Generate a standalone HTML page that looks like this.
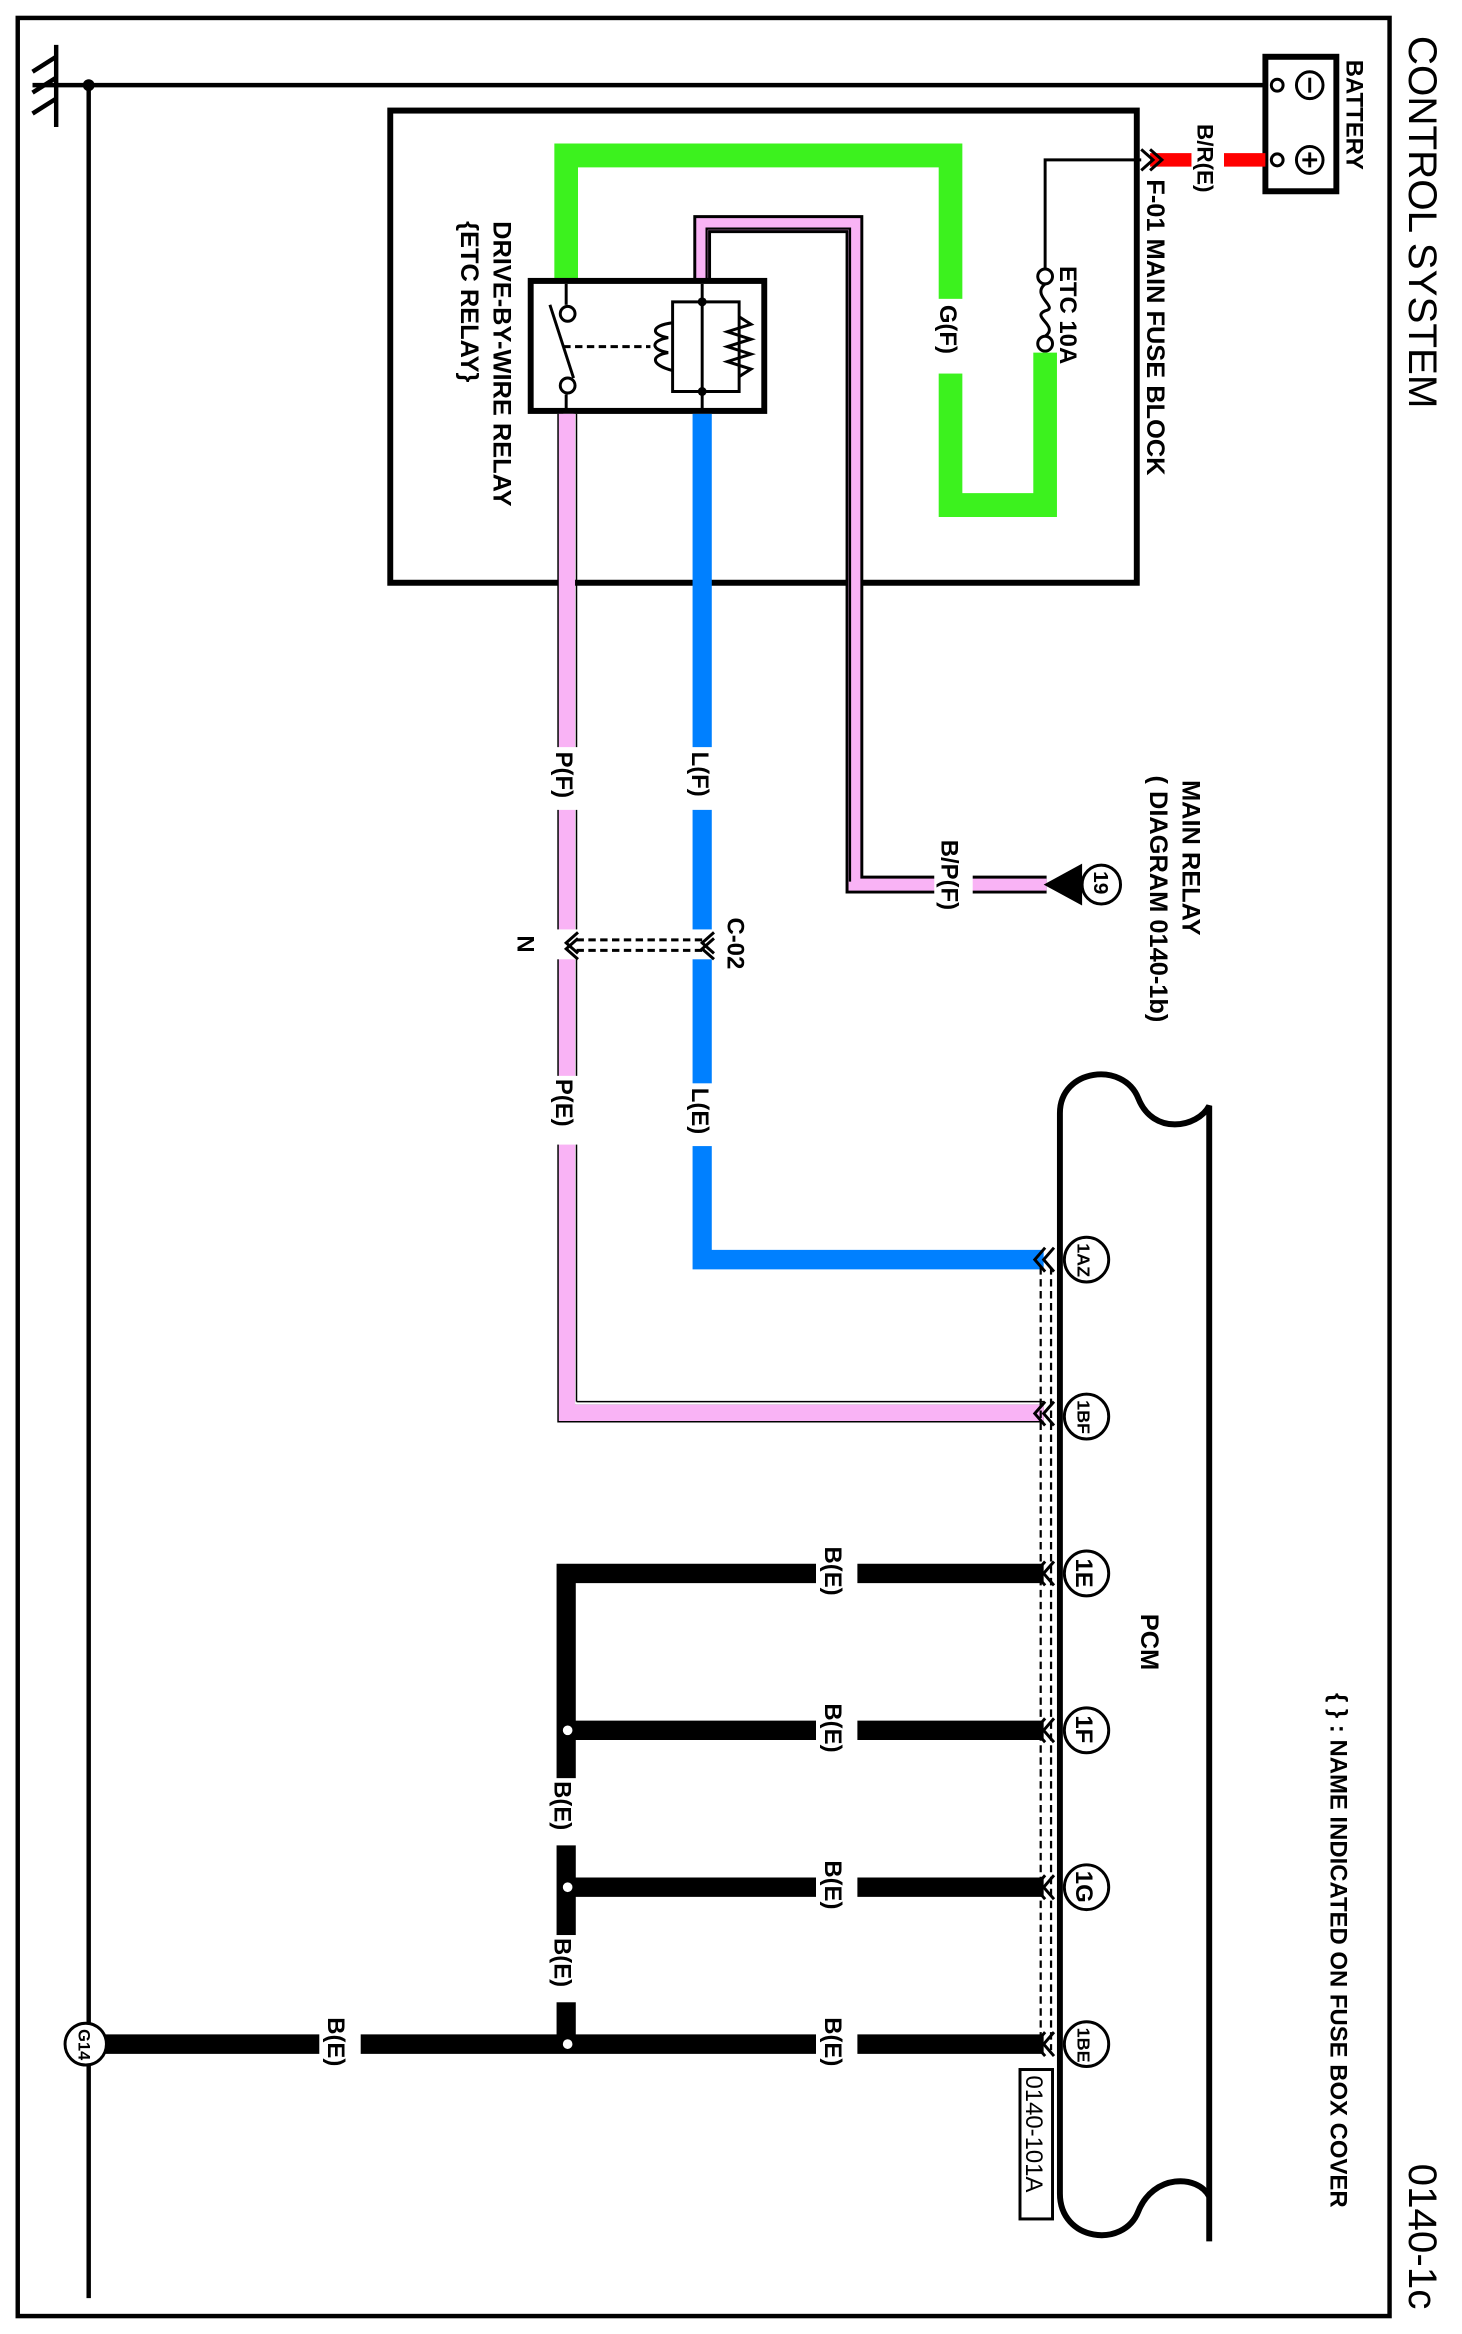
<!DOCTYPE html>
<html><head><meta charset="utf-8"><style>
html,body{margin:0;padding:0;background:#fff;}
svg{display:block;}
text{font-family:"Liberation Sans",sans-serif;font-weight:bold;fill:#000;}
</style></head><body>
<svg width="1462" height="2334" viewBox="0 0 989 1562" preserveAspectRatio="none" xmlns="http://www.w3.org/2000/svg">
<rect x="0" y="0" width="989" height="1562" fill="#fff"/>
<rect x="12" y="12" width="928" height="1538" fill="none" stroke="#000" stroke-width="3"/>

<g stroke="#000" stroke-width="3" fill="none">
<line x1="22" y1="57" x2="855" y2="57"/>
<line x1="60" y1="57" x2="60" y2="1538"/>
<line x1="38" y1="30" x2="38" y2="85"/>
<line x1="38" y1="38" x2="22" y2="48"/>
<line x1="38" y1="52" x2="22" y2="62"/>
<line x1="38" y1="66" x2="22" y2="76"/>
</g>
<circle cx="60" cy="57" r="4" fill="#000"/>

<rect x="856" y="38" width="48" height="90" fill="#fff" stroke="#000" stroke-width="4"/>
<circle cx="864" cy="57" r="4" fill="#fff" stroke="#000" stroke-width="2"/>
<circle cx="864" cy="107" r="4" fill="#fff" stroke="#000" stroke-width="2"/>
<circle cx="886" cy="57" r="9" fill="#fff" stroke="#000" stroke-width="2"/>
<line x1="886" y1="52" x2="886" y2="62" stroke="#000" stroke-width="2"/>
<circle cx="886" cy="107" r="9" fill="#fff" stroke="#000" stroke-width="2"/>
<line x1="886" y1="102" x2="886" y2="112" stroke="#000" stroke-width="2"/>
<line x1="881" y1="107" x2="891" y2="107" stroke="#000" stroke-width="2"/>
<text transform="translate(911,40) rotate(90)" font-size="16">BATTERY</text>

<text transform="translate(953,24) rotate(90)" font-size="27" style="font-weight:normal">CONTROL SYSTEM</text>
<text transform="translate(953,1448) rotate(90)" font-size="27" style="font-weight:normal">0140-1c</text>
<text transform="translate(900,1133) rotate(90)" font-size="16">{ } : NAME INDICATED ON FUSE BOX COVER</text>

<line x1="778" y1="107" x2="856" y2="107" stroke="#ff0000" stroke-width="9"/>
<rect x="806" y="82" width="22" height="60" fill="#fff"/>
<text transform="translate(810,83) rotate(90)" font-size="15">B/R(E)</text>
<polyline points="772,100 780,107 772,114" fill="none" stroke="#000" stroke-width="2"/>
<polyline points="778,100 786,107 778,114" fill="none" stroke="#000" stroke-width="2"/>
<text transform="translate(776,120) rotate(90)" font-size="17">F-01 MAIN FUSE BLOCK</text>

<rect x="264" y="74" width="505" height="316" fill="none" stroke="#000" stroke-width="4"/>

<polyline points="772,107 707,107 707,180" fill="none" stroke="#000" stroke-width="2"/>
<circle cx="707" cy="185" r="5" fill="#fff" stroke="#000" stroke-width="2"/>
<circle cx="707" cy="230" r="5" fill="#fff" stroke="#000" stroke-width="2"/>
<path d="M707,190 C697,198 717,206 707,208 C697,212 717,218 707,225" fill="none" stroke="#000" stroke-width="2"/>
<text transform="translate(717,178) rotate(90)" font-size="16">ETC 10A</text>

<polyline points="707,236 707,338 643,338 643,104 383,104 383,190" fill="none" stroke="#3cf21e" stroke-width="16"/>
<rect x="630" y="200" width="26" height="50" fill="#fff"/>
<text transform="translate(636,204) rotate(90)" font-size="16">G(F)</text>

<polyline points="475,190 475,150 578,150 578,592 708,592" fill="none" stroke="#000" stroke-width="12"/>
<polyline points="475,190 475,150 578,150 578,592 708,592" fill="none" stroke="#f9b3f5" stroke-width="8"/>
<polyline points="478,188 478,153 575,153 575,590" fill="none" stroke="#000" stroke-width="1.5"/>
<rect x="632" y="560" width="26" height="62" fill="#fff"/>
<text transform="translate(637,562) rotate(90)" font-size="16">B/P(F)</text>
<polygon points="706,592 732,578 732,606" fill="#000"/>
<circle cx="745" cy="592" r="13" fill="#fff" stroke="#000" stroke-width="2"/>
<text transform="translate(740,583) rotate(90)" font-size="14">19</text>
<text transform="translate(800,522) rotate(90)" font-size="17">MAIN RELAY</text>
<text transform="translate(778,519) rotate(90)" font-size="17">( DIAGRAM 0140-1b)</text>

<rect x="359" y="188" width="158" height="87" fill="#fff" stroke="#000" stroke-width="4"/>
<line x1="383" y1="190" x2="383" y2="204" stroke="#000" stroke-width="2"/>
<line x1="383" y1="264" x2="383" y2="275" stroke="#000" stroke-width="2"/>
<circle cx="384" cy="210" r="5" fill="#fff" stroke="#000" stroke-width="2"/>
<circle cx="384" cy="258" r="5" fill="#fff" stroke="#000" stroke-width="2"/>
<line x1="372" y1="204" x2="388" y2="253" stroke="#000" stroke-width="2"/>
<line x1="381" y1="232" x2="440" y2="232" stroke="#000" stroke-width="2" stroke-dasharray="5,3"/>
<line x1="475" y1="190" x2="475" y2="275" stroke="#000" stroke-width="2"/>
<polyline points="475,202 455,202 455,262 475,262" fill="none" stroke="#000" stroke-width="2"/>
<polyline points="475,202 500,202 500,262 475,262" fill="none" stroke="#000" stroke-width="2"/>
<circle cx="475" cy="202" r="3" fill="#000"/>
<circle cx="475" cy="262" r="3" fill="#000"/>
<path d="M455,216 C440,218 440,224 452,226 C440,228 440,234 452,236 C440,238 440,244 455,248" fill="none" stroke="#000" stroke-width="2"/>
<polyline points="500,212 508,217 492,222 508,227 492,232 508,237 492,242 508,247 500,252" fill="none" stroke="#000" stroke-width="2"/>
<text transform="translate(334,148) rotate(90)" font-size="17">DRIVE-BY-WIRE RELAY</text>
<text transform="translate(312,148) rotate(90)" font-size="17">{ETC RELAY}</text>

<polyline points="383,277 383,946 706,946" fill="none" stroke="#000" stroke-width="12"/>
<polyline points="383,277 383,946 706,946" fill="none" stroke="#f9b3f5" stroke-width="10"/>
<polyline points="385,277 385,944 706,944" fill="none" stroke="#f9b3f5" stroke-width="8"/>
<line x1="390" y1="277" x2="390" y2="938" stroke="#000" stroke-width="1"/>
<line x1="390" y1="938" x2="706" y2="938" stroke="#000" stroke-width="1"/>
<polyline points="475,277 475,843 706,843" fill="none" stroke="#0080ff" stroke-width="13"/>

<rect x="370" y="500" width="26" height="42" fill="#fff"/>
<text transform="translate(376,503) rotate(90)" font-size="16">P(F)</text>
<rect x="462" y="500" width="26" height="42" fill="#fff"/>
<text transform="translate(468,503) rotate(90)" font-size="16">L(F)</text>
<rect x="370" y="720" width="26" height="46" fill="#fff"/>
<text transform="translate(376,722) rotate(90)" font-size="16">P(E)</text>
<rect x="462" y="725" width="26" height="42" fill="#fff"/>
<text transform="translate(468,728) rotate(90)" font-size="16">L(E)</text>

<rect x="370" y="622" width="120" height="20" fill="#fff"/>
<g fill="none" stroke="#000" stroke-width="2">
<polyline points="391,624 383,631 391,638"/><polyline points="391,628 383,635 391,642"/>
<polyline points="483,624 475,631 483,638"/><polyline points="483,628 475,635 483,642"/>
<line x1="390" y1="629" x2="475" y2="629" stroke-dasharray="5,3"/>
<line x1="390" y1="636" x2="475" y2="636" stroke-dasharray="5,3"/>
</g>
<text transform="translate(492,614) rotate(90)" font-size="16">C-02</text>
<text transform="translate(350,626) rotate(90)" font-size="16">N</text>

<g stroke="#000" stroke-width="13" fill="none">
<polyline points="706,1053 383,1053 383,1368"/>
<line x1="383" y1="1158" x2="706" y2="1158"/>
<line x1="383" y1="1263" x2="706" y2="1263"/>
<line x1="70" y1="1368" x2="706" y2="1368"/>
</g>
<g>
<rect x="552" y="1032" width="28" height="45" fill="#fff"/><text transform="translate(558,1035) rotate(90)" font-size="16">B(E)</text>
<rect x="552" y="1137" width="28" height="45" fill="#fff"/><text transform="translate(558,1140) rotate(90)" font-size="16">B(E)</text>
<rect x="552" y="1242" width="28" height="45" fill="#fff"/><text transform="translate(558,1245) rotate(90)" font-size="16">B(E)</text>
<rect x="552" y="1347" width="28" height="45" fill="#fff"/><text transform="translate(558,1350) rotate(90)" font-size="16">B(E)</text>
<rect x="216" y="1347" width="28" height="45" fill="#fff"/><text transform="translate(222,1350) rotate(90)" font-size="16">B(E)</text>
<rect x="369" y="1190" width="28" height="45" fill="#fff"/><text transform="translate(375,1192) rotate(90)" font-size="16">B(E)</text>
<rect x="369" y="1295" width="28" height="45" fill="#fff"/><text transform="translate(375,1297) rotate(90)" font-size="16">B(E)</text>
</g>
<circle cx="384" cy="1158" r="4" fill="#fff" stroke="#000" stroke-width="1.5"/>
<circle cx="384" cy="1263" r="4" fill="#fff" stroke="#000" stroke-width="1.5"/>
<circle cx="384" cy="1368" r="4" fill="#fff" stroke="#000" stroke-width="1.5"/>
<circle cx="58" cy="1368" r="14" fill="#fff" stroke="#000" stroke-width="2"/>
<text transform="translate(53,1358) rotate(90)" font-size="11">G14</text>

<g fill="none" stroke="#000" stroke-width="4">
<path d="M717,1468 L717,745 C717,715 760,710 770,735 C780,760 810,755 818,740 L818,1500"/>
<path d="M717,1468 C717,1500 760,1505 770,1480 C780,1455 810,1455 818,1470"/>
</g>
<g fill="none" stroke="#000" stroke-width="1.5" stroke-dasharray="5,3">
<line x1="704" y1="848" x2="704" y2="1372"/>
<line x1="711" y1="848" x2="711" y2="1372"/>
</g>
<g fill="none" stroke="#000" stroke-width="2">
<polyline points="707,835 700,843 707,851"/><polyline points="713,835 706,843 713,851"/>
<polyline points="707,938 700,946 707,954"/><polyline points="713,938 706,946 713,954"/>
<polyline points="707,1045 700,1053 707,1061"/><polyline points="713,1045 706,1053 713,1061"/>
<polyline points="707,1150 700,1158 707,1166"/><polyline points="713,1150 706,1158 713,1166"/>
<polyline points="707,1255 700,1263 707,1271"/><polyline points="713,1255 706,1263 713,1271"/>
<polyline points="707,1360 700,1368 707,1376"/><polyline points="713,1360 706,1368 713,1376"/>
</g>
<g fill="#fff" stroke="#000" stroke-width="2">
<circle cx="735" cy="843" r="15"/><circle cx="735" cy="948" r="15"/><circle cx="735" cy="1053" r="15"/>
<circle cx="735" cy="1158" r="15"/><circle cx="735" cy="1263" r="15"/><circle cx="735" cy="1368" r="15"/>
</g>
<text transform="translate(729,832) rotate(90)" font-size="12">1AZ</text>
<text transform="translate(729,937) rotate(90)" font-size="12">1BF</text>
<text transform="translate(728,1043) rotate(90)" font-size="16">1E</text>
<text transform="translate(728,1148) rotate(90)" font-size="16">1F</text>
<text transform="translate(728,1252) rotate(90)" font-size="16">1G</text>
<text transform="translate(729,1357) rotate(90)" font-size="12">1BE</text>
<text transform="translate(772,1080) rotate(90)" font-size="17">PCM</text>
<rect x="690" y="1385" width="22" height="100" fill="#fff" stroke="#000" stroke-width="2"/>
<text transform="translate(694,1389) rotate(90)" font-size="16" style="font-weight:normal">0140-101A</text>
</svg>
</body></html>
